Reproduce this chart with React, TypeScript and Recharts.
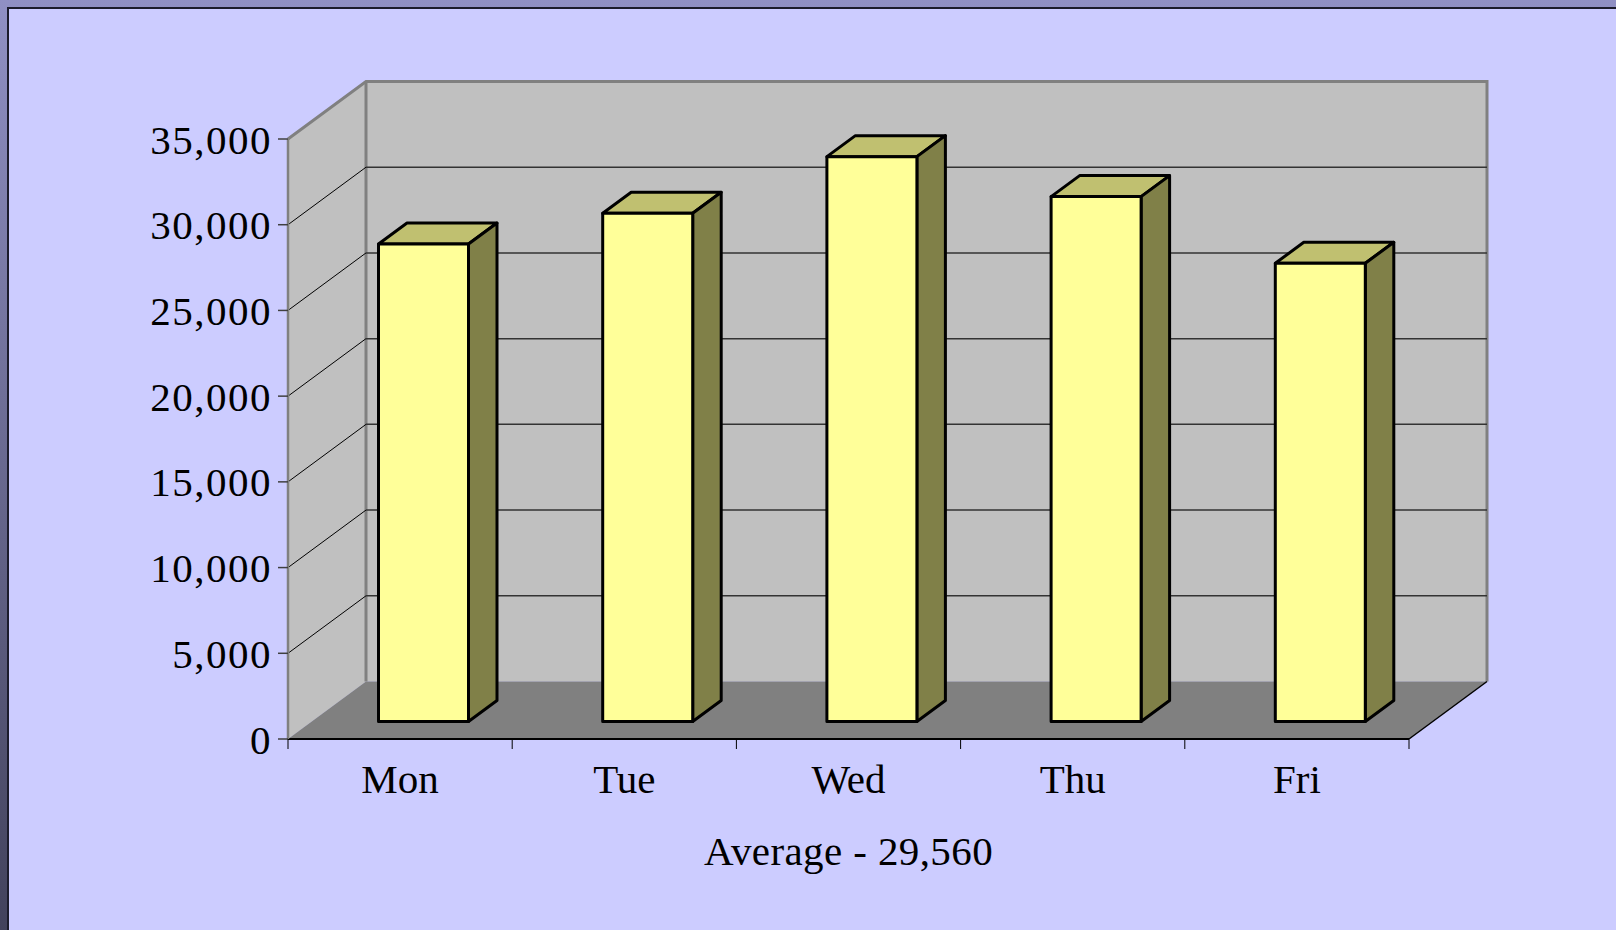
import {
  BarChart,
  Bar,
  XAxis,
  YAxis,
  CartesianGrid,
  ReferenceArea,
} from "recharts";

const days = ["Mon", "Tue", "Wed", "Thu", "Fri"];
const dailyValues = [27850, 29650, 32950, 30620, 26730];
const yTicks = [0, 5000, 10000, 15000, 20000, 25000, 30000, 35000];

const data = days.map((day, i) => ({ day, value: dailyValues[i] }));
const average =
  dailyValues.reduce((sum, v) => sum + v, 0) / dailyValues.length;

const W = 1616;
const H = 930;
const TOP = 139;
const BOTTOM = 739;
const FONT = '"Liberation Serif", "Times New Roman", serif';
const X_TICK_MARGIN = 25;

// depth of the 3d box, and where the bars stand inside it
const DEPTH_X = 78;
const DEPTH_Y = 57.5;
const BAR_OFF_X = 23.5;
const BAR_OFF_Y = 17.5;
const BAR_DX = 28.5;
const BAR_DY = 21;

function Walls(props: any) {
  const { x, y, width, height } = props;
  const b = y + height;
  const bx = x + DEPTH_X;
  const by = y - DEPTH_Y;
  const bb = b - DEPTH_Y;
  const br = x + width + DEPTH_X;
  return (
    <g>
      <polygon points={`${x},${b} ${x},${y} ${bx},${by} ${bx},${bb}`} fill="#c0c0c0" />
      <rect x={bx} y={by} width={width} height={height} fill="#c0c0c0" />
      <polygon
        points={`${x},${b} ${bx},${bb} ${br},${bb} ${x + width},${b}`}
        fill="#808080"
      />
      <polyline
        points={`${x},${y} ${bx},${by} ${br},${by} ${br},${bb}`}
        fill="none"
        stroke="#808080"
        strokeWidth={3}
      />
      <line x1={bx} y1={by} x2={bx} y2={bb} stroke="#808080" strokeWidth={3} />
      <line x1={x + width} y1={b} x2={br} y2={bb} stroke="#000" strokeWidth={1.5} />
    </g>
  );
}

function GridLine(props: any) {
  const { x1, y1, x2 } = props;
  if (y1 < TOP + 1 || y1 > BOTTOM - 1) return <g key={props.key} />;
  return (
    <g key={props.key}>
      <line x1={x1} y1={y1} x2={x1 + DEPTH_X} y2={y1 - DEPTH_Y} stroke="#000" strokeWidth={1} />
      <line
        x1={x1 + DEPTH_X}
        y1={y1 - DEPTH_Y}
        x2={x2 + DEPTH_X}
        y2={y1 - DEPTH_Y}
        stroke="#333"
        strokeWidth={1.5}
      />
    </g>
  );
}

// category label, plus tick marks on the band edges (not the centre)
function DayTick(props: any) {
  const { x, y, payload, index, visibleTicksCount } = props;
  const half = payload?.offset ?? 112;
  const axisY = y - X_TICK_MARGIN;
  const last = index === visibleTicksCount - 1;
  return (
    <g>
      <line x1={x - half} y1={axisY} x2={x - half} y2={axisY + 10} stroke="#000" strokeWidth={1} />
      {last && (
        <line x1={x + half} y1={axisY} x2={x + half} y2={axisY + 10} stroke="#000" strokeWidth={1} />
      )}
      <text
        x={x}
        y={y}
        dy="0.71em"
        textAnchor="middle"
        fill="#000"
        fontSize={41}
        fontFamily={FONT}
      >
        {payload.value}
      </text>
    </g>
  );
}

function Bar3D(props: any) {
  const { x, y, width, height } = props;
  const fx = x + BAR_OFF_X;
  const fy = y - BAR_OFF_Y;
  const r = fx + width;
  const b = fy + height;
  return (
    <g stroke="#000" strokeWidth={3} strokeLinejoin="round">
      <polygon
        points={`${fx},${fy} ${fx + BAR_DX},${fy - BAR_DY} ${r + BAR_DX},${fy - BAR_DY} ${r},${fy}`}
        fill="#c0c070"
      />
      <polygon
        points={`${r},${fy} ${r + BAR_DX},${fy - BAR_DY} ${r + BAR_DX},${b - BAR_DY} ${r},${b}`}
        fill="#808048"
      />
      <rect x={fx} y={fy} width={width} height={height} fill="#ffff99" />
    </g>
  );
}

export default function App() {
  return (
    <div
      style={{
        position: "absolute",
        left: 0,
        top: 0,
        width: W,
        height: H,
        overflow: "hidden",
        background: "linear-gradient(to bottom, #9090c4, #42425c)",
      }}
    >
      <div
        style={{
          position: "absolute",
          left: 7,
          top: 7,
          right: 0,
          bottom: 0,
          background: "#ccccff",
          borderLeft: "2px solid #1c1c2c",
          borderTop: "2px solid #1c1c2c",
        }}
      />
      <div style={{ position: "absolute", left: 0, top: 0 }}>
        <BarChart
          width={W}
          height={H}
          data={data}
          margin={{ top: TOP, right: 207, left: 0, bottom: 0 }}
        >
          <ReferenceArea y1={0} y2={35000} shape={Walls} zIndex={-200} ifOverflow="visible" />
          <CartesianGrid vertical={false} horizontal={GridLine} />
          <XAxis
            dataKey="day"
            height={H - BOTTOM}
            interval={0}
            axisLine={{ stroke: "#000", strokeWidth: 2 }}
            tickLine={false}
            tickSize={0}
            tickMargin={X_TICK_MARGIN}
            tick={DayTick}
            label={{
              value: `Average - ${Math.round(average).toLocaleString("en-US")}`,
              position: "insideBottom",
              offset: 65,
              fill: "#000",
              fontSize: 41,
              fontFamily: FONT,
              letterSpacing: 0.4,
            }}
          />
          <YAxis
            width={288}
            domain={[0, 35000]}
            ticks={yTicks}
            interval={0}
            tickSize={10}
            tickMargin={6}
            tickFormatter={(v: number) => v.toLocaleString("en-US")}
            tick={{ fill: "#000", fontSize: 41, fontFamily: FONT, letterSpacing: 1.5 }}
            axisLine={{ stroke: "#808080", strokeWidth: 2.5 }}
            tickLine={{ stroke: "#404040", strokeWidth: 1.5 }}
          />
          <Bar
            dataKey="value"
            barSize={90}
            fill="#ffff99"
            shape={Bar3D}
            isAnimationActive={false}
          />
        </BarChart>
      </div>
    </div>
  );
}
